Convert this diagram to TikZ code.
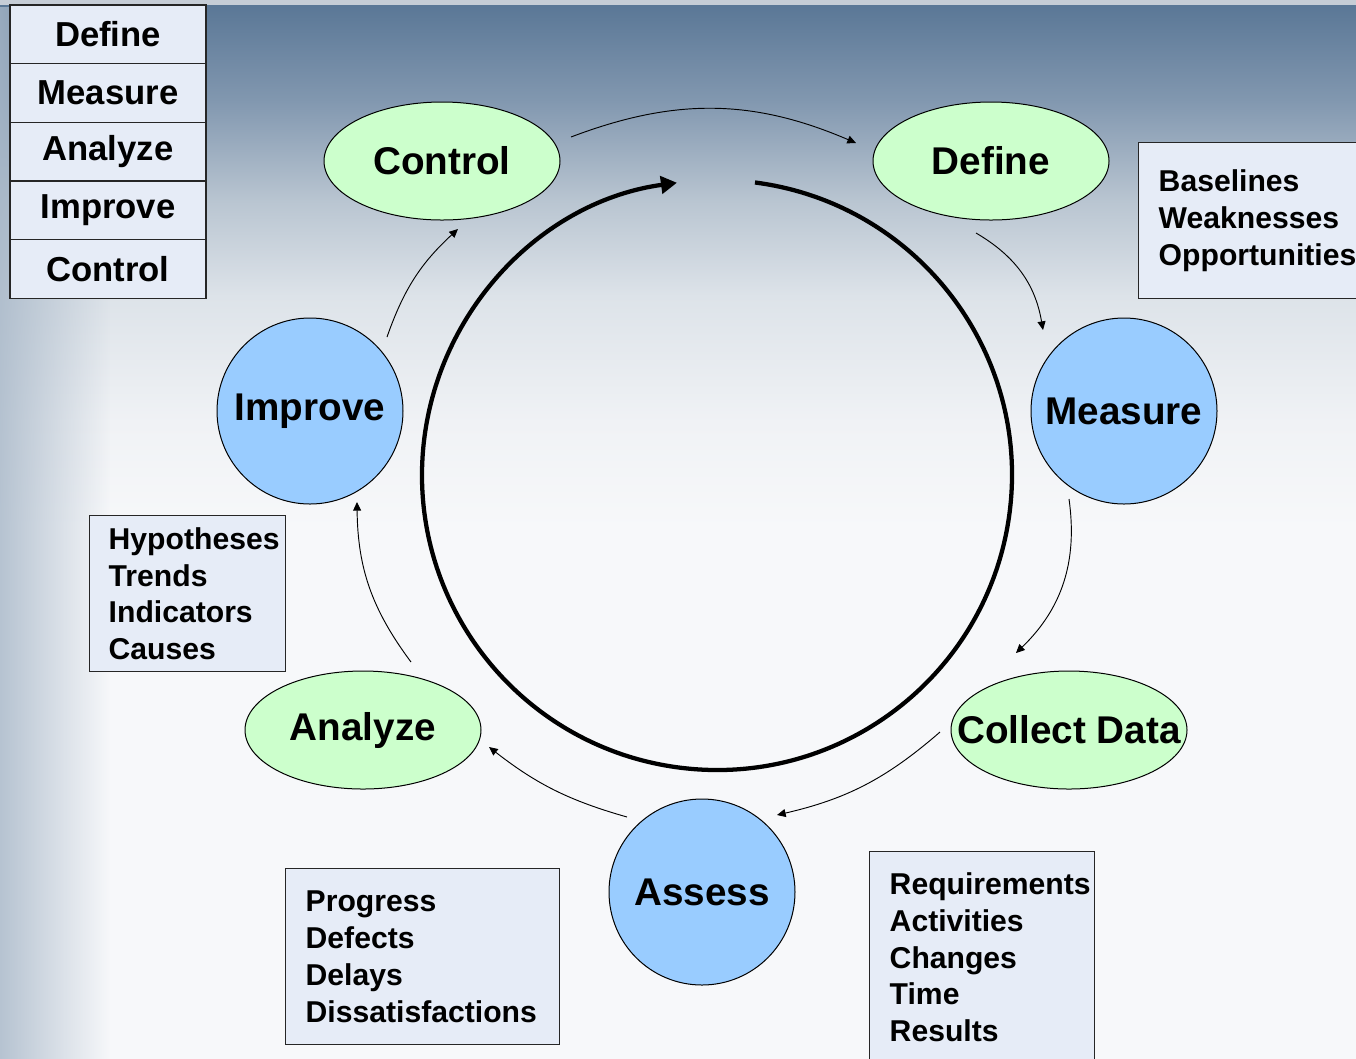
\documentclass[tikz,border=0pt]{standalone}
\usepackage{fontspec}
\setmainfont{Liberation Sans}
\usetikzlibrary{positioning,shapes.geometric,arrows.meta,fadings}

\definecolor{phasegreen}{HTML}{CCFFCC}
\definecolor{stageblue}{HTML}{99CCFF}
\definecolor{boxfill}{HTML}{E6ECF7}
\definecolor{bgtop}{HTML}{5A7796}
\definecolor{bgone}{HTML}{8197AF}
\definecolor{bgtwo}{HTML}{B9C5D1}
\definecolor{bgthree}{HTML}{DDE3E9}
\definecolor{bgfour}{HTML}{F0F2F5}
\definecolor{bgbot}{HTML}{F7F8FA}
\definecolor{bgline}{HTML}{C6CDD6}
\definecolor{bgedge}{HTML}{A6B6C7}

\pgfdeclareverticalshading{bgshade}{100bp}{color(0bp)=(bgbot); color(50bp)=(bgbot); color(55bp)=(bgfour); color(61bp)=(bgthree); color(65.5bp)=(bgtwo); color(70.3bp)=(bgone); color(74.8bp)=(bgtop); color(100bp)=(bgtop)}
\tikzfading[name=edgefade, left color=transparent!20, right color=transparent!100]

\tikzset{every picture/.style={line width=0.75pt}}
\tikzset{
  phasenode/.style={ellipse, draw, fill=phasegreen, minimum width=177pt, minimum height=88.5pt, inner sep=0pt},
  phaselabel/.style={font=\fontsize{29}{34}\selectfont\bfseries, inner sep=0pt},
  stagenode/.style={circle, draw, fill=stageblue, minimum size=139.5pt, inner sep=0pt, font=\fontsize{29}{34}\selectfont\bfseries},
  tablecell/.style={draw=black!85, line width=1.1pt, fill=boxfill, minimum width=147pt, minimum height=44pt, inner sep=0pt, outer sep=0pt, font=\fontsize{26}{30}\selectfont\bfseries},
  notebox/.style={draw=black!85, line width=1.1pt, fill=boxfill, anchor=north west, align=left, inner xsep=15pt, inner ysep=0pt, font=\fontsize{22.6}{27.6}\selectfont\bfseries},
  flowarrow/.style={-{Triangle[length=6.5pt,width=6pt]}, line width=0.7pt},
  cyclearrow/.style={-{Triangle[length=12pt,width=13pt]}, line width=3.2pt}
}

\begin{document}
\begin{tikzpicture}[x=0.75pt,y=0.75pt,yscale=-1,xscale=1]
	\useasboundingbox (0,0) rectangle (1356,1058);

	%Background
	\shade[shading=bgshade] (0,0) rectangle (1356,1058);
	\fill[bgline] (0,0) rectangle (1356,5);
	\fill[bgedge, path fading=edgefade] (0,5) rectangle (110,1058);

	%Phase table
	\node[tablecell, anchor=north west] (tdef) at (10,5) {Define};
	\node[tablecell, below=0pt of tdef] (tmea) {Measure};
	\node[tablecell, below=0pt of tmea] (tana) {Analyze};
	\node[tablecell, below=0pt of tana] (timp) {Improve};
	\node[tablecell, below=0pt of timp] (tctl) {Control};

	%Big cycle
	\coordinate (hub) at (717,475);
	\draw[cyclearrow] (hub) ++(-82.6:295) arc[start angle=-82.6, end angle=262.2, radius=295];

	%Ellipses
	\node[phasenode, label={[phaselabel]center:Control}] (ctrl) at (442,161) {};
	\node[phasenode, label={[phaselabel]center:Define}] (def) at (991,161) {};
	\node[phasenode, label={[phaselabel]center:Collect Data}] (coll) at (1069,730) {};
	\node[phasenode, label={[phaselabel]center:Analyze}] (anal) at (363,730) {};

	%Circles
	\node[stagenode] (impr) at (310,411) {Improve};
	\node[stagenode] (meas) at (1124,411) {Measure};
	\node[stagenode] (asse) at (702,892) {Assess};

	%Curved arrows
	\draw[flowarrow] ([shift={(129,-24)}]ctrl.center) to[bend right=22] ([shift={(-135,-18)}]def.center);
	\draw[flowarrow] ([shift={(-15,72)}]def.center) to[bend right=25] ([shift={(-81,-81)}]meas.center);
	\draw[flowarrow] ([shift={(-55,88)}]meas.center) to[bend right=27] ([shift={(-53,-77)}]coll.center);
	\draw[flowarrow] ([shift={(-129,2)}]coll.center) to[bend right=14] ([shift={(75,-77)}]asse.center);
	\draw[flowarrow] ([shift={(-75,-75)}]asse.center) to[bend right=11] ([shift={(126,17)}]anal.center);
	\draw[flowarrow] ([shift={(48,-68)}]anal.center) to[bend right=18] ([shift={(47,91)}]impr.center);
	\draw[flowarrow] ([shift={(77,-74)}]impr.center) to[bend right=14] ([shift={(16,68)}]ctrl.center);

	%Note boxes
	\node[notebox, text width=150pt, minimum height=117pt] (base) at (1138,142) {Baselines\\Weaknesses\\Opportunities};
	\node[notebox, inner xsep=14.25pt, text width=118.5pt, minimum height=117pt] (hypo) at (89,515) {Hypotheses\\Trends\\Indicators\\Causes};
	\node[notebox, text width=175.5pt, minimum height=132pt] (prog) at (285,868) {Progress\\Defects\\Delays\\Dissatisfactions};
	\node[notebox, text width=138.75pt, minimum height=158.25pt] (reqs) at (869,851) {Requirements\\Activities\\Changes\\Time\\Results};

\end{tikzpicture}
\end{document}
